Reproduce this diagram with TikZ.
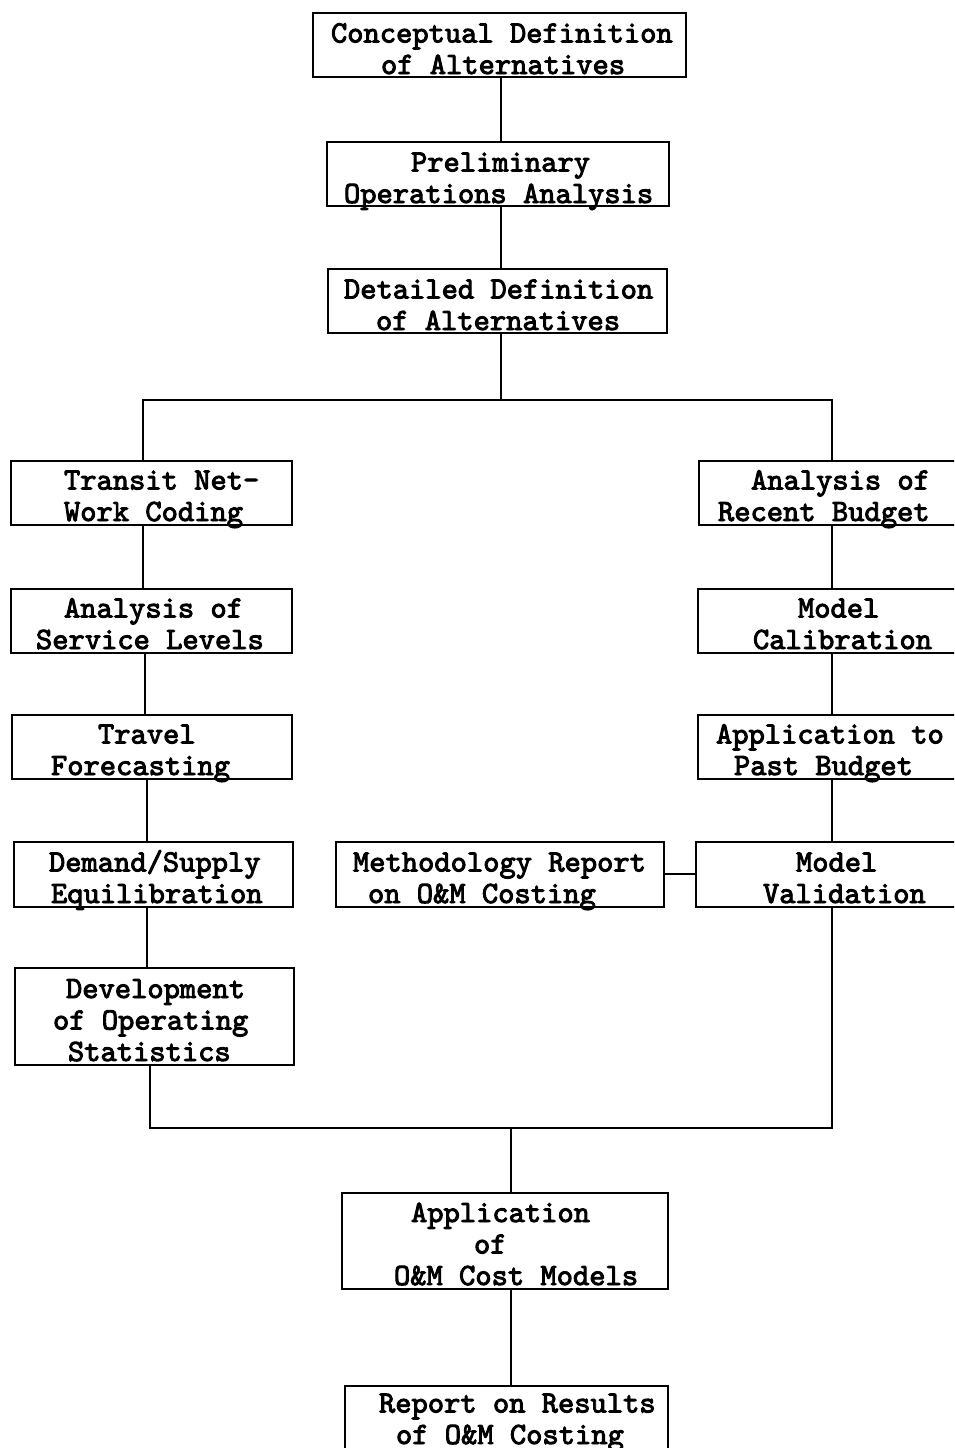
\documentclass[tikz,border=0pt]{standalone}
\usepackage{fontspec}
\newfontfamily\tw{lmmono10-regular}[Extension=.otf, FakeBold=3]
\newcommand\bxt[2]{\makebox[#1][l]{\begin{tabular}[b]{@{}l@{}}#2\end{tabular}}}
\tikzset{
  box/.style={draw, line width=2pt, inner sep=0pt, anchor=north west,
    font=\tw\fontsize{31}{31.5}\selectfont, text height=61pt, text depth=4pt},
  tall/.style={text height=92pt},
  conn/.style={line width=2pt}
}
\begin{document}
\begin{tikzpicture}[x=1pt,y=-1pt]
\clip (0,0) rectangle (954,1448);
\fill[white] (0,0) rectangle (954,1448);
% top chain
\node[box, text depth=3pt] (cd) at (312,12) {\bxt{373pt}{\hspace*{18pt}Conceptual Definition\\\hspace*{68pt}of Alternatives}};
\node[box, text depth=3pt] (po) at (326,141) {\bxt{342pt}{\hspace*{84pt}Preliminary\\\hspace*{17pt}Operations Analysis}};
\node[box, text depth=3pt] (dd) at (327,268) {\bxt{339pt}{\hspace*{16pt}Detailed Definition\\\hspace*{48pt}of Alternatives}};
% left column
\node[box, text height=60pt] (tn) at (10,460) {\bxt{281pt}{\hspace*{53pt}Transit Net-\\\hspace*{53pt}Work Coding}};
\node[box, text height=60pt] (as) at (10,588) {\bxt{281pt}{\hspace*{53pt}Analysis of\\\hspace*{25pt}Service Levels}};
\node[box, text height=60pt] (tf) at (11,714) {\bxt{280pt}{\hspace*{86pt}Travel\\\hspace*{39pt}Forecasting}};
\node[box] (ds) at (13,841) {\bxt{279pt}{\hspace*{35pt}Demand/Supply\\\hspace*{37pt}Equilibration}};
\node[box, text height=93pt] (dv) at (14,967) {\bxt{279pt}{\hspace*{51pt}Development\\\hspace*{38pt}of Operating\\\hspace*{53pt}Statistics}};
% right column
\node[box, text height=60pt] (rb) at (698,460) {\bxt{270pt}{\hspace*{52pt}Analysis of\\\hspace*{19pt}Recent Budget}};
\node[box, text height=60pt] (mc) at (697,588) {\bxt{270pt}{\hspace*{100pt}Model\\\hspace*{55pt}Calibration}};
\node[box, text height=60pt] (ap) at (697,714) {\bxt{270pt}{\hspace*{18pt}Application to\\\hspace*{36pt}Past Budget}};
\node[box] (mv) at (695,841) {\bxt{272pt}{\hspace*{100pt}Model\\\hspace*{67pt}Validation}};
% methodology
\node[box] (mr) at (335,841) {\bxt{328pt}{\hspace*{17pt}Methodology Report\\\hspace*{32pt}on O\&M Costing}};
% bottom
\node[box, tall] (ao) at (341,1192) {\bxt{326pt}{\hspace*{69pt}Application\\\hspace*{132pt}of\\\hspace*{52pt}O\&M Cost Models}};
\node[box, text height=58pt, text depth=11pt] (rr) at (344,1385) {\bxt{323pt}{\hspace*{34pt}Report on Results\\\hspace*{51pt}of O\&M Costing}};
% coordinates for connector columns
\coordinate (T) at (501,0);
\coordinate (HT) at (501,400);
\coordinate (L1) at (143,0);
\coordinate (L2) at (145,0);
\coordinate (L3) at (147,0);
\coordinate (L4) at (150,0);
\coordinate (R) at (832,0);
\coordinate (M) at (0,874);
\coordinate (HB) at (511,1128);
% connectors
\draw[conn] (cd.south -| T) -- (po.north -| T);
\draw[conn] (po.south -| T) -- (dd.north -| T);
\draw[conn] (dd.south -| T) -- (HT);
\draw[conn] (tn.north -| L1) |- (HT) -| (rb.north -| R);
\draw[conn] (tn.south -| L1) -- (as.north -| L1);
\draw[conn] (as.south -| L2) -- (tf.north -| L2);
\draw[conn] (tf.south -| L3) -- (ds.north -| L3);
\draw[conn] (ds.south -| L3) -- (dv.north -| L3);
\draw[conn] (rb.south -| R) -- (mc.north -| R);
\draw[conn] (mc.south -| R) -- (ap.north -| R);
\draw[conn] (ap.south -| R) -- (mv.north -| R);
\draw[conn] (mr.east |- M) -- (mv.west |- M);
\draw[conn] (dv.south -| L4) |- (HB) -| (mv.south -| R);
\draw[conn] (HB) -- (ao.north -| HB);
\draw[conn] (ao.south -| HB) -- (rr.north -| HB);
\end{tikzpicture}
\end{document}
